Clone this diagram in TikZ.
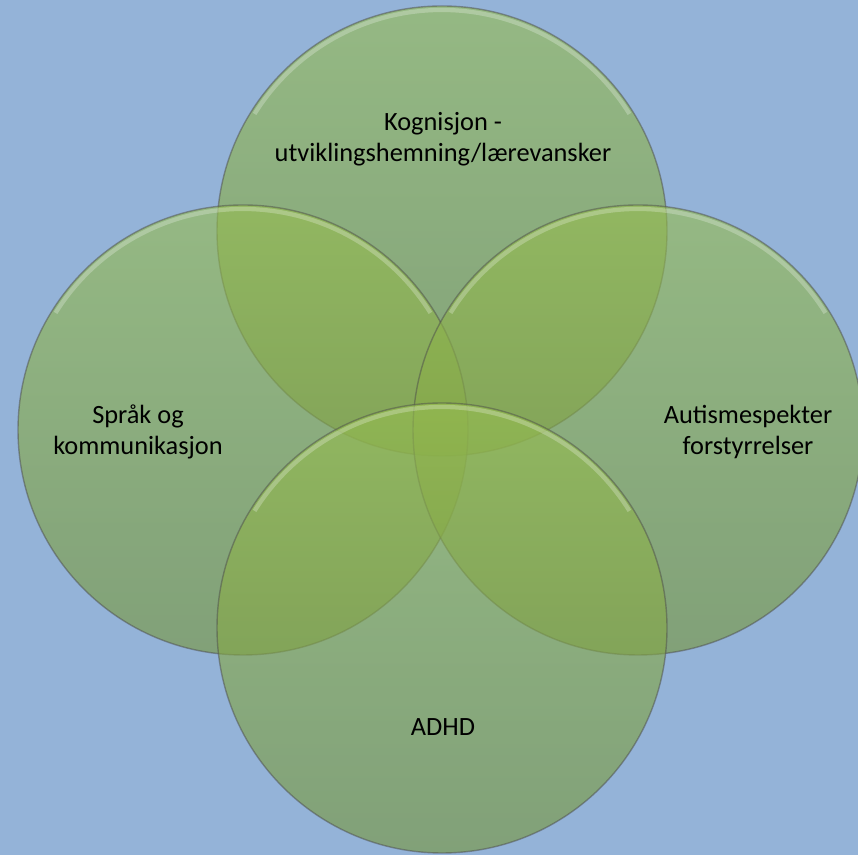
\documentclass[tikz,border=0pt]{standalone}
\usepackage{fontspec}
\setmainfont{Carlito}
\usepackage{tikz}

\definecolor{bgblue}{RGB}{148,179,216}
\definecolor{venntop}{RGB}{150,189,80}
\definecolor{vennbot}{RGB}{118,150,62}

\tikzset{
  venn/.style={circle, minimum size=4.5cm, inner sep=0pt, outer sep=0pt,
    top color=venntop, bottom color=vennbot, fill opacity=0.62,
    draw=black!70, draw opacity=0.5, line width=0.4pt,
    path picture={\draw[white, opacity=0.25, line width=1.2pt]
      ([shift={(32:2.21)}]path picture bounding box.center) arc (32:148:2.21);}},
  lbl/.style={align=center, inner sep=0pt, font=\fontsize{7.5}{8.7}\selectfont}
}

\begin{document}
\begin{tikzpicture}
%
\useasboundingbox (0,0) rectangle (8.58,8.55);
\fill[bgblue] (0,0) rectangle (8.58,8.55);
%
\node[venn] (kog) at (4.42,6.24) {};
\node[venn] (spr) at (2.43,4.25) {};
\node[venn] (aut) at (6.38,4.25) {};
\node[venn] (adhd) at (4.42,2.27) {};
%
\node[lbl] (tkog) at (4.43,7.16) {Kognisjon -\\utviklingshemning/lærevansker};
\node[lbl] (tspr) at (1.38,4.23) {Språk og\\kommunikasjon};
\node[lbl] (taut) at (7.48,4.23) {Autismespekter\\forstyrrelser};
\node[lbl] (tadhd) at (4.43,1.28) {ADHD};
\end{tikzpicture}
\end{document}
